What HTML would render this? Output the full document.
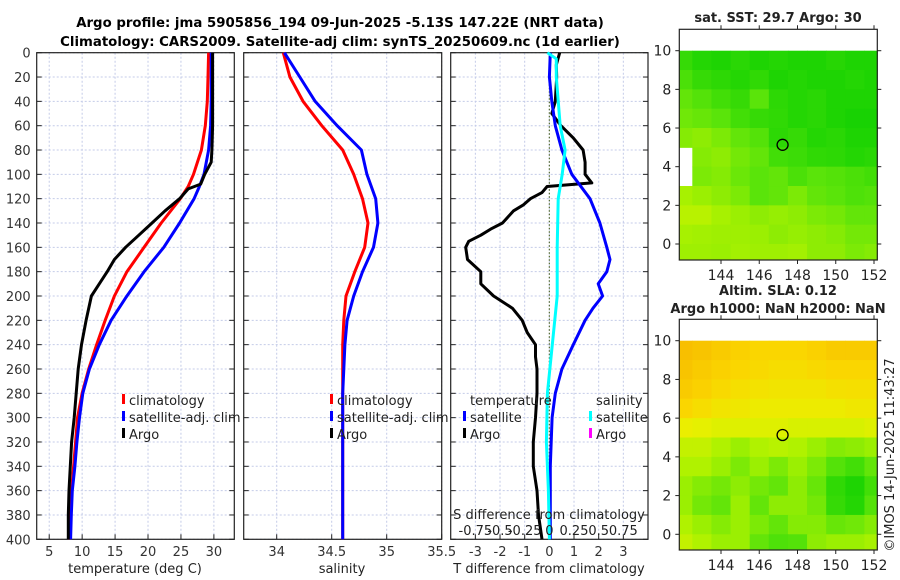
<!DOCTYPE html>
<html><head><meta charset="utf-8"><style>
html,body{margin:0;padding:0;background:#fff;}
svg{display:block;font-family:"DejaVu Sans","Liberation Sans",sans-serif;}
</style></head><body>
<svg id="fig" width="900" height="580" viewBox="0 0 900 580">
<g font-weight="bold" font-size="13.3" text-anchor="middle" fill="#000">
<text x="340" y="27">Argo profile: jma 5905856_194 09-Jun-2025 -5.13S 147.22E (NRT data)</text>
<text x="340" y="46">Climatology: CARS2009. Satellite-adj clim: synTS_20250609.nc (1d earlier)</text>
</g>
<g id="panels"></g>
<g id="maps"></g>
<text transform="translate(894,455) rotate(-90)" text-anchor="middle" font-size="13" fill="#222">©IMOS 14-Jun-2025 11:43:27</text>
</svg>
<script>
// ---- data ----
const depthsT = [0,20,40,60,80,90,100,108,112,120,130,140,150,160,170,180,190,200,220,240,260,280,300,320,340,360,380,400];
const argoT   = [29.8,29.8,29.8,29.8,29.7,29.6,28.6,28,26.1,24.8,22.6,20.6,18.6,16.6,14.9,13.8,12.6,11.4,10.6,9.9,9.4,9.1,8.8,8.4,8.2,8.0,7.9,7.9];
const climDepths = [0,20,40,60,80,100,110,120,140,160,180,200,220,240,260,280,300,320,340,360,380,400];
const climT  = [29.2,29.1,29.0,28.7,28.1,26.9,26.1,24.9,22,19.4,16.8,14.9,13.5,12.2,11,10.0,9.3,9.0,8.7,8.4,8.2,8.1];
const satT   = [29.6,29.6,29.6,29.5,29.2,28.5,27.8,27,24.8,22.4,19.4,16.8,14.4,12.6,11.1,10.1,9.6,9.2,8.9,8.5,8.35,8.25];
const climS  = [34.06,34.12,34.24,34.41,34.6,34.7,34.74,34.78,34.83,34.8,34.71,34.63,34.61,34.6,34.6,34.6,34.6,34.6,34.6,34.6,34.6,34.6];
const satS   = [34.07,34.21,34.35,34.55,34.77,34.82,34.86,34.9,34.92,34.88,34.78,34.7,34.64,34.62,34.61,34.6,34.6,34.6,34.6,34.6,34.6,34.6];
const diffDepths = [0,10,20,40,50,60,70,80,90,100,107,110,115,120,125,130,140,145,150,155,160,170,180,190,200,210,220,230,240,250,260,280,300,320,340,360,380,400];
const argoTdiff  = [0.42,0.28,0.3,0.24,0.1,0.47,0.97,1.37,1.45,1.45,1.72,-0.09,-0.3,-0.77,-1.05,-1.45,-1.9,-2.38,-2.78,-3.27,-3.39,-3.32,-2.78,-2.78,-2.26,-1.5,-1.1,-0.9,-0.56,-0.56,-0.5,-0.5,-0.56,-0.65,-0.65,-0.5,-0.44,-0.3];
const satDiffDepths = [0,20,40,60,80,100,120,140,160,170,180,190,200,210,220,240,260,280,300,340,400];
const satTdiff   = [0.04,0.0,0.1,0.24,0.51,0.91,1.65,2.05,2.33,2.46,2.33,1.98,2.16,1.77,1.45,0.97,0.51,0.24,0.11,0.04,0.04];
const sDiffDepths = [0,5,20,60,80,100,120,160,200,240,280,320,360,400];
const satSdiff    = [-0.02,0.07,0.07,0.11,0.16,0.13,0.09,0.08,0.08,0.03,-0.02,-0.03,-0.01,0.0];
const depthTicks = [0,20,40,60,80,100,120,140,160,180,200,220,240,260,280,300,320,340,360,380,400];
const tTicks = [5,10,15,20,25,30];
const sTicks = [34,34.5,35,35.5];
const dTicks = [-3,-2,-1,0,1,2,3];
const sdTicks = [-0.75,-0.5,-0.25,0,0.25,0.5,0.75];
const sdLabels = ["-0.75","-0.5","-0.25","0","0.25","0.5","0.75"];
const lonTicks = [144,146,148,150,152];
const latTicks = [0,2,4,6,8,10];
const sstGrid = [
[0.18,0.12,0.1,0.14,0.1,0.12,0.1,0.1,0.13,0.1,0.1],
[0.25,0.18,0.15,0.12,0.16,0.1,0.12,0.1,0.1,0.12,0.1],
[0.32,0.28,0.22,0.18,0.3,0.15,0.12,0.14,0.1,0.1,0.1],
[0.35,0.33,0.3,0.22,0.18,0.16,0.12,0.14,0.1,0.08,0.08],
[0.4,0.42,0.38,0.32,0.28,0.15,0.18,0.12,0.14,0.1,0.1],
[-1,0.4,0.42,0.36,0.32,0.22,0.2,0.16,0.15,0.12,0.14],
[-1,0.38,0.4,0.34,0.3,0.32,0.25,0.3,0.28,0.25,0.22],
[0.48,0.45,0.42,0.38,0.3,0.32,0.38,0.32,0.3,0.26,0.28],
[0.52,0.52,0.48,0.45,0.42,0.44,0.42,0.38,0.36,0.32,0.32],
[0.48,0.47,0.46,0.46,0.45,0.42,0.44,0.42,0.4,0.36,0.36],
[0.46,0.46,0.45,0.47,0.46,0.46,0.47,0.42,0.42,0.38,0.4],
[0.46,0.47,0.46,0.45,0.46,0.46,0.45,0.48,0.46,0.42,0.42]];
const slaGrid = [
[0.9,0.88,0.85,0.82,0.8,0.8,0.8,0.82,0.85,0.85,0.85],
[0.88,0.85,0.82,0.8,0.78,0.76,0.76,0.78,0.8,0.8,0.8],
[0.85,0.82,0.78,0.75,0.73,0.72,0.72,0.72,0.74,0.75,0.75],
[0.8,0.76,0.72,0.7,0.68,0.68,0.68,0.68,0.68,0.7,0.7],
[0.66,0.64,0.62,0.62,0.62,0.62,0.6,0.6,0.6,0.6,0.62],
[0.55,0.55,0.5,0.45,0.5,0.52,0.5,0.45,0.4,0.42,0.45],
[0.5,0.5,0.45,0.38,0.45,0.38,0.45,0.38,0.28,0.22,0.32],
[0.45,0.4,0.36,0.42,0.36,0.32,0.42,0.33,0.16,0.1,0.22],
[0.45,0.36,0.32,0.45,0.32,0.42,0.42,0.36,0.18,0.12,0.28],
[0.5,0.45,0.4,0.45,0.38,0.32,0.4,0.4,0.33,0.35,0.4],
[0.55,0.5,0.45,0.45,0.32,0.26,0.28,0.42,0.45,0.45,0.48],
[0.58,0.55,0.5,0.5,0.42,0.38,0.4,0.48,0.5,0.5,0.52]];
const argoLon = [147.22];
const argoLat = [5.13];

const NS = "http://www.w3.org/2000/svg";
function mk(tag, attrs, parent){ const e=document.createElementNS(NS,tag); for(const k in attrs) e.setAttribute(k,attrs[k]); if(parent) parent.appendChild(e); return e; }
const panels = document.getElementById('panels');
const Y0=52.7, Y1=539.3;
const yD = d => Y0 + d/400*(Y1-Y0);
function lin(d0,d1,r0,r1){ return v => r0 + (v-d0)/(d1-d0)*(r1-r0); }

function axesBox(name,x0,x1,xTicks,xs,xLabels,showY){
  const g = mk('g',{},panels);
  
  
  xTicks.forEach(t=>{ const x=xs(t); mk('line',{x1:x,x2:x,y1:Y0,y2:Y1,stroke:'#c4cbe8','stroke-dasharray':'2,2','stroke-width':1},g); });
  depthTicks.forEach(d=>{ const y=yD(d); mk('line',{x1:x0,x2:x1,y1:y,y2:y,stroke:'#c4cbe8','stroke-dasharray':'2,2','stroke-width':1},g); });
  depthTicks.forEach(d=>{ const y=yD(d); mk('line',{x1:x0,x2:x0+5,y1:y,y2:y,stroke:'#222'},g); mk('line',{x1:x1-5,x2:x1,y1:y,y2:y,stroke:'#222'},g);
    if(showY){ const t=mk('text',{x:x0-6,y:y+5,'text-anchor':'end','font-size':13,fill:'#333'},g); t.textContent=d;
      
       } });
  xTicks.forEach((t,i)=>{ const x=xs(t); mk('line',{x1:x,x2:x,y1:Y1,y2:Y1-5,stroke:'#222'},g);
    const tx=mk('text',{x:x,y:556,'text-anchor':'middle','font-size':13,fill:'#333'},g); tx.textContent=xLabels[i];
    
     });
  mk('rect',{x:x0,y:Y0,width:x1-x0,height:Y1-Y0,fill:'none',stroke:'#222','stroke-width':1.2},g);
  return g;
}
function line(g,xs,vals,depths,color,name,w){
  const p = depths.map((d,i)=>(i?'L':'M')+xs(vals[i]).toFixed(1)+','+yD(d).toFixed(1)).join('');
  const e = mk('path',{d:p,fill:'none',stroke:color,'stroke-width':w||3,'stroke-linejoin':'round'},g);
  
  
}
function label(g,x,y,txt,name,anchor,size){ const t=mk('text',{x:x,y:y,'text-anchor':anchor||'start','font-size':size||13,fill:'#222'},g); t.textContent=txt;
  
   return t; }
function legendRow(g,x,y,color,txt,name){
  const lg=mk('g',{},g);
  
  
  mk('rect',{x:x,y:y-11,width:3,height:10,fill:color},lg);
  label(lg,x+7,y,txt,name+'-label');
}

const xT = lin(3.1,33.1,36.7,234.3);
const g1 = axesBox('temperature-panel',36.7,234.3,tTicks,xT,tTicks.map(String),true);
line(g1,xT,climT,climDepths,'#ff0000','climatology-temperature-line');
line(g1,xT,satT,climDepths,'#0000ff','satellite-temperature-line');
line(g1,xT,argoT,depthsT,'#000000','argo-temperature-line');
legendRow(g1,122,405,'#ff0000','climatology','legend-climatology');
legendRow(g1,122,422,'#0000ff','satellite-adj. clim','legend-satellite');
legendRow(g1,122,439,'#000000','Argo','legend-argo');
label(g1,135,573,'temperature (deg C)','x-axis-title-temperature','middle');

const xS = lin(33.7,35.5,243.7,441.7);
const g2 = axesBox('salinity-panel',243.7,441.7,sTicks,xS,['34','34.5','35','35.5'],false);
line(g2,xS,climS,climDepths,'#ff0000','climatology-salinity-line');
line(g2,xS,satS,climDepths,'#0000ff','satellite-salinity-line');
legendRow(g2,330,405,'#ff0000','climatology','legend-climatology-s');
legendRow(g2,330,422,'#0000ff','satellite-adj. clim','legend-satellite-s');
legendRow(g2,330,439,'#000000','Argo','legend-argo-s');
label(g2,342,573,'salinity','x-axis-title-salinity','middle');

const xD = lin(-4,4,450.7,648);
const xSD = v => xD(v*4);
const g3 = axesBox('difference-panel',450.7,648,dTicks,xD,dTicks.map(String),false);
mk('line',{x1:xD(0),x2:xD(0),y1:Y0,y2:Y1,stroke:'#556b2f','stroke-dasharray':'1.5,2','stroke-width':1.2},g3);
line(g3,xD,argoTdiff,diffDepths,'#000000','argo-temperature-diff-line');
line(g3,xD,satTdiff,satDiffDepths,'#0000ff','satellite-temperature-diff-line');
line(g3,xSD,satSdiff,sDiffDepths,'#00ffff','satellite-salinity-diff-line');
label(g3,470,405,'temperature','legend-title-temperature');
legendRow(g3,463,422,'#0000ff','satellite','legend-t-satellite');
legendRow(g3,463,439,'#000000','Argo','legend-t-argo');
label(g3,596,405,'salinity','legend-title-salinity');
legendRow(g3,589,422,'#00ffff','satellite','legend-s-satellite');
legendRow(g3,589,439,'#ff00ff','Argo','legend-s-argo');
label(g3,549,519,'S difference from climatology','s-axis-title','middle');
sdTicks.forEach((t,i)=>{ label(g3,xSD(t),535,sdLabels[i],'s-tick-label','middle'); });
label(g3,549,573,'T difference from climatology','x-axis-title-tdiff','middle');

const maps = document.getElementById('maps');
function cmap(v){
  const stops=[[0,[0,204,0]],[0.3,[90,228,10]],[0.5,[176,242,0]],[0.65,[234,240,0]],[0.8,[250,214,0]],[1,[246,168,0]]];
  for(let i=1;i<stops.length;i++){ if(v<=stops[i][0]){ const a=stops[i-1],b=stops[i],f=(v-a[0])/(b[0]-a[0]);
    return 'rgb('+a[1].map((c,k)=>Math.round(c+f*(b[1][k]-c))).join(',')+')'; } }
  return 'rgb(246,168,0)';
}
function drawMap(name,top,bottom,yTen,yZero,grid,t1,t2){
  const g=mk('g',{},maps);
  
  
  const x0=679.3,x1=877.3;
  const xL=lin(144,152,721,874), yL=lin(0,10,yZero,yTen);
  const cg=mk('g',{},g);
  grid.forEach((row,r)=>row.forEach((v,c)=>{ if(v<0) return;
    const lat=10-r, lon=142+c;
    const xa=Math.max(x0,xL(lon-0.5)), xb=Math.min(x1,xL(lon+0.5));
    const ya=Math.max(yL(10),yL(lat)), yb=Math.min(bottom,yL(lat-1));
    if(xb<=xa||yb<=ya) return;
    const cell=mk('rect',{x:xa,y:ya,width:xb-xa+0.5,height:yb-ya+0.5,fill:cmap(v)},cg);
    
    
  }));
  mk('rect',{x:x0,y:top,width:x1-x0,height:bottom-top,fill:'none',stroke:'#222','stroke-width':1.2},g);
  lonTicks.forEach(t=>{ const x=xL(t); mk('line',{x1:x,x2:x,y1:bottom,y2:bottom+4,stroke:'#222'},g); mk('line',{x1:x,x2:x,y1:top,y2:top-4,stroke:'#222'},g);
    label(g,x,bottom+20,String(t),'lon-tick-label','middle',14); });
  latTicks.forEach(t=>{ const y=yL(t); mk('line',{x1:x0-4,x2:x0,y1:y,y2:y,stroke:'#222'},g); mk('line',{x1:x1,x2:x1+4,y1:y,y2:y,stroke:'#222'},g);
    label(g,x0-8,y+5,String(t),'lat-tick-label','end',14); });
  argoLon.forEach((lo,i)=>{ const c=mk('circle',{cx:xL(lo),cy:yL(argoLat[i]),r:5.5,fill:'none',stroke:'#000','stroke-width':1.3},g);
    
     });
  const tt=label(g,778,t1[1],t1[0],'map-title','middle',13); tt.setAttribute('font-weight','bold');
  if(t2){ const t=label(g,778,t2[1],t2[0],'map-title-2','middle',13); t.setAttribute('font-weight','bold'); }
}
drawMap('sst-map',29.3,260,50.7,244,sstGrid,['sat. SST: 29.7 Argo: 30',22]);
drawMap('sla-map',319.3,550,340.7,534.3,slaGrid,['Altim. SLA: 0.12',295],['Argo h1000: NaN h2000: NaN',313]);
</script>
</body></html>
